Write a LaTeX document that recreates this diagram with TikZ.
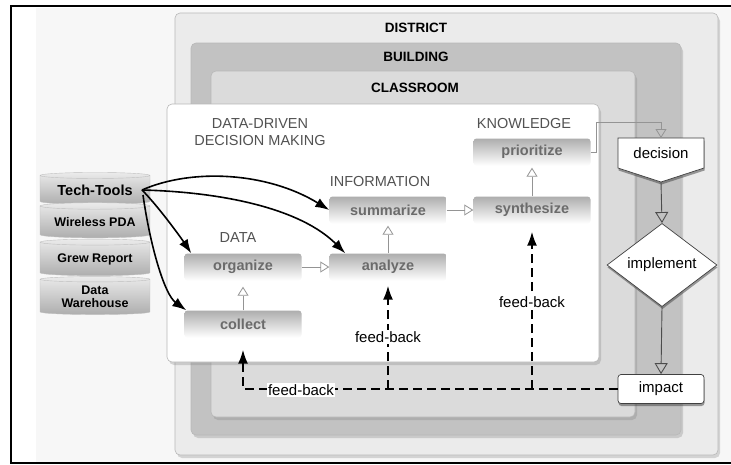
\documentclass[tikz,border=0pt]{standalone}
\usepackage{fontspec}
\setmainfont{Liberation Sans}
\usetikzlibrary{arrows.meta,shapes.geometric,shadows,calc}

\tikzset{
  level/.style={rounded corners=5pt, draw=black!28, line width=0.6pt,
    drop shadow={shadow xshift=2pt, shadow yshift=-3pt, opacity=0.3}},
  levelname/.style={font=\fontsize{13.5}{16}\selectfont\bfseries},
  heading/.style={text=black!68, font=\fontsize{14.5}{17}\selectfont},
  stage/.style={rounded corners=3pt, top color=black!32, bottom color=white,
    minimum width=117pt, minimum height=27pt, inner sep=0pt, text=black!58,
    font=\fontsize{14.5}{17}\selectfont\bfseries},
  tool/.style={cylinder, shape border rotate=90, aspect=0.08, draw=black!25,
    top color=black!8, bottom color=black!32, minimum width=110pt,
    inner xsep=0pt, inner ysep=8pt, align=center,
    font=\fontsize{12.5}{13}\selectfont\bfseries},
  act/.style={draw=black!75, fill=white, line width=0.7pt,
    drop shadow={shadow xshift=0.5pt, shadow yshift=-2.5pt, fill=black!75}},
  actlabel/.style={font=\fontsize{15}{18}\selectfont, inner sep=0pt},
  flow/.style={draw=black!42, line width=0.8pt,
    -{Triangle[open, length=9pt, width=11pt]}},
  flowdark/.style={draw=black!70, line width=0.9pt,
    -{Triangle[open, length=11pt, width=13pt]}},
  toolarrow/.style={line width=1.6pt, -{Latex[length=14pt, width=10pt]}},
  feed/.style={line width=1.7pt, dash pattern=on 9pt off 5pt,
    -{Latex[length=14pt, width=10pt]}},
  fbnote/.style={fill=white, inner sep=1.5pt, font=\fontsize{15}{18}\selectfont},
}

\begin{document}
\begin{tikzpicture}[x=1pt, y=-1pt]
  \useasboundingbox (0,0) rectangle (731,464);

  %%%%% FRAME %%%%%
  \fill[black!3] (36,8) rectangle (731,462);
  \draw[line width=2pt] (732,6) -- (11,6) -- (11,463) -- (732,463);

  %%%%% NESTED LEVELS %%%%%
  \draw[level, fill=black!8] (175,13) rectangle (718,455);
  \draw[level, fill=black!24] (191,43) rectangle (681,435);
  \draw[level, fill=black!14] (211,71) rectangle (635,417);
  \draw[level, fill=white] (167,104) rectangle (599,362);

  \node[levelname] (district) at (416,28) {DISTRICT};
  \node[levelname] (building) at (416,57) {BUILDING};
  \node[levelname] (classroom) at (415,88) {CLASSROOM};

  %%%%% HEADINGS %%%%%
  \node[heading, align=center] (dddm) at (260,132) {DATA-DRIVEN\\DECISION MAKING};
  \node[heading] (knowledge) at (524,124) {KNOWLEDGE};
  \node[heading] (information) at (380,182) {INFORMATION};
  \node[heading] (data) at (238,238) {DATA};

  %%%%% STAGES %%%%%
  \node[stage] (prioritize) at (532,152) {prioritize};
  \node[stage] (summarize) at (388,210) {summarize};
  \node[stage] (synthesize) at (532,210) {synthesize};
  \node[stage] (organize) at (243,267) {organize};
  \node[stage] (analyze) at (388,267) {analyze};
  \node[stage] (collect) at (243,324) {collect};

  \draw[flow, shorten >=6pt] (collect) -- (organize);
  \draw[flow] (organize) -- (analyze);
  \draw[flow, shorten >=2pt] (analyze) -- (summarize);
  \draw[flow] (summarize) -- (synthesize);
  \draw[flow, shorten >=2pt] (synthesize) -- (prioritize);

  %%%%% TECH-TOOLS %%%%%
  \node[tool, inner ysep=6pt, font=\fontsize{14.5}{17}\selectfont\bfseries] (techtools) at (95,190) {Tech-Tools};
  \node[tool] (pda) at (95,222) {Wireless PDA};
  \node[tool] (grew) at (95,259) {Grew Report};
  \node[tool, inner ysep=4pt] (warehouse) at (95,297) {Data\\Warehouse};

  \coordinate (ttout) at (142,190);
  \draw[toolarrow] (ttout) .. controls +(50,-22) and +(-62,-38) .. (summarize.west);
  \draw[toolarrow] (ttout) .. controls +(80,2) and +(-45,-45) .. ([xshift=16pt]analyze.north west);
  \draw[toolarrow] (ttout) .. controls +(15,15) and +(-12,-18) .. ([xshift=7pt]organize.north west);
  \draw[toolarrow] ($(ttout)+(1,5)$) .. controls +(7,50) and +(-22,-16) .. ([xshift=2pt]collect.north west);

  %%%%% DECISION / IMPLEMENT / IMPACT %%%%%
  \coordinate (decision) at (661,153);
  \draw[act] ($(decision)+(-43,-15)$) -- ($(decision)+(43,-15)$) -- ($(decision)+(43,15)$)
    -- ($(decision)+(0,29)$) -- ($(decision)+(-43,15)$) -- cycle;
  \node[actlabel] (decisiontext) at (decision) {decision};
  \node[act, diamond, minimum width=110pt, minimum height=50pt, inner sep=0pt,
    font=\fontsize{15}{18}\selectfont] (implement) at (662,265) {implement};
  \node[act, rounded corners=3pt, minimum width=86pt, minimum height=29pt,
    font=\fontsize{15}{18}\selectfont] (impact) at (661,389) {impact};

  \draw[flow] (prioritize.east) -- ++(6,0) -- ++(0,-30) -| ($(decision)+(0,-15)$);
  \draw[flowdark] ($(decision)+(0,29)$) -- (implement.north);
  \draw[flowdark] (implement.south) -- (impact.north);

  %%%%% FEED-BACK %%%%%
  \draw[feed] (impact.west) -| ([yshift=-12pt]collect.south);
  \draw[feed] (analyze.south |- impact.west) -- ([yshift=-5pt]analyze.south);
  \draw[feed] (synthesize.south |- impact.west) -- ([yshift=-8pt]synthesize.south);

  \node[fbnote] (fbbottom) at (301,390) {feed-back};
  \node[fbnote] (fbanalyze) at (388,337) {feed-back};
  \node[fbnote] (fbsynth) at (532,302) {feed-back};
\end{tikzpicture}
\end{document}
